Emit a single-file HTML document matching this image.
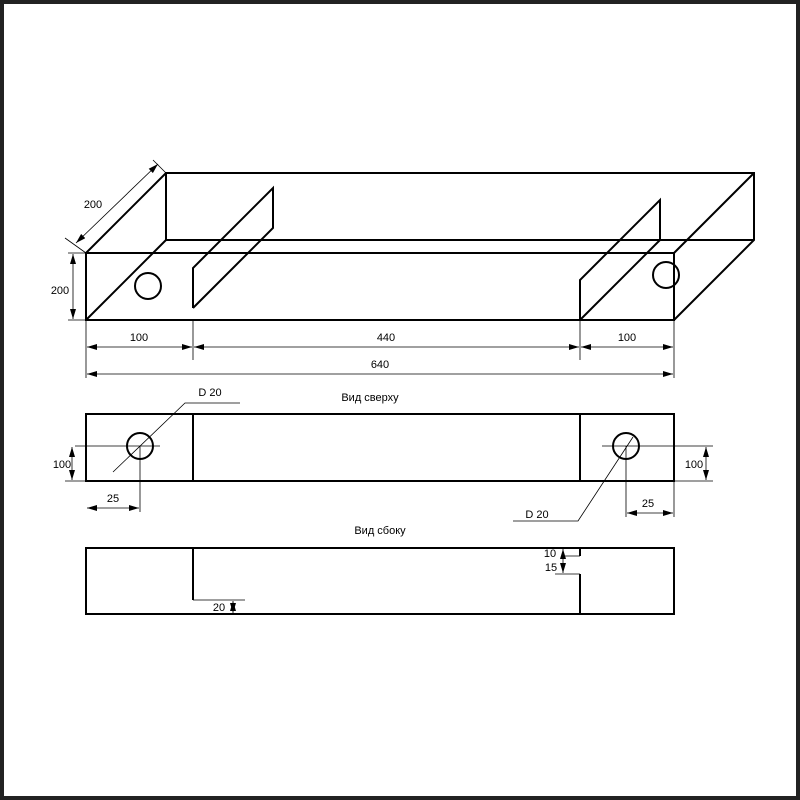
<!DOCTYPE html>
<html><head><meta charset="utf-8"><style>body{margin:0;background:#fff}svg{display:block}</style></head><body>
<svg width="800" height="800" viewBox="0 0 800 800" xmlns="http://www.w3.org/2000/svg" font-family="Liberation Sans, sans-serif" font-size="11">
<defs><marker id="a" viewBox="0 0 10 6" refX="10" refY="3" markerWidth="10" markerHeight="6" markerUnits="userSpaceOnUse" orient="auto-start-reverse"><path d="M0,0L10,3L0,6z" fill="#000"/></marker></defs>
<rect x="2" y="2" width="796" height="796" fill="#fff" stroke="#222" stroke-width="4"/>
<g stroke="#000" stroke-width="2" fill="none">
<rect x="86" y="253" width="588" height="67"/>
<path d="M86,253L166,173H754V240L674,320M754,173L674,253M166,173V240H754M86,320L166,240"/>
<path d="M193,308V268L273,188V228L193,308"/>
<path d="M580,320V280L660,200V240M580,320L660,240"/>
<circle cx="148" cy="286" r="13"/><circle cx="666" cy="275" r="13"/>
<rect x="86" y="414" width="588" height="67"/><path d="M193,414V481M580,414V481"/>
<circle cx="140" cy="446" r="13"/><circle cx="626" cy="446" r="13"/>
<rect x="86" y="548" width="588" height="66"/>
<path d="M193,548V600M580,548V556M580,574V614"/>
</g>
<g stroke="#000" stroke-width="0.8" fill="none">
<path d="M68,253H86M68,320H86"/>
<path d="M73,254V319" marker-start="url(#a)" marker-end="url(#a)"/>
<path d="M65,238L86,253M153,160L166,173"/>
<path d="M76,243L158,164" marker-start="url(#a)" marker-end="url(#a)"/>
<path d="M86,320V378M193,320V360M580,320V360M674,320V378"/>
<path d="M87,347H192" marker-start="url(#a)" marker-end="url(#a)"/>
<path d="M194,347H579" marker-start="url(#a)" marker-end="url(#a)"/>
<path d="M581,347H673" marker-start="url(#a)" marker-end="url(#a)"/>
<path d="M87,374H673" marker-start="url(#a)" marker-end="url(#a)"/>
<path d="M113,472L185,403H240M75,446H160M65,481H86M140,446V512"/>
<path d="M72,447V480" marker-start="url(#a)" marker-end="url(#a)"/>
<path d="M87,508H139" marker-start="url(#a)" marker-end="url(#a)"/>
<path d="M602,446H713M674,481H713M626,446V517M674,481V517M633,437L578,521H513"/>
<path d="M706,447V480" marker-start="url(#a)" marker-end="url(#a)"/>
<path d="M627,513H673" marker-start="url(#a)" marker-end="url(#a)"/>
<path d="M193,600H245M563,556H580M555,574H580"/>
<path d="M233,601V613" marker-start="url(#a)" marker-end="url(#a)"/>
<path d="M563,549V573" marker-start="url(#a)" marker-end="url(#a)"/>
</g>
<g fill="#000" text-anchor="middle">
<text x="60" y="294">200</text><text x="93" y="208">200</text>
<text x="139" y="341">100</text><text x="386" y="341">440</text><text x="627" y="341">100</text><text x="380" y="368">640</text>
<text x="370" y="401">Вид сверху</text><text x="210" y="396">D 20</text>
<text x="62" y="468">100</text><text x="113" y="502">25</text>
<text x="694" y="468">100</text><text x="648" y="507">25</text><text x="537" y="518">D 20</text>
<text x="380" y="534">Вид сбоку</text>
<text x="219" y="611">20</text><text x="550" y="557">10</text><text x="551" y="571">15</text>
</g>
</svg>
</body></html>
